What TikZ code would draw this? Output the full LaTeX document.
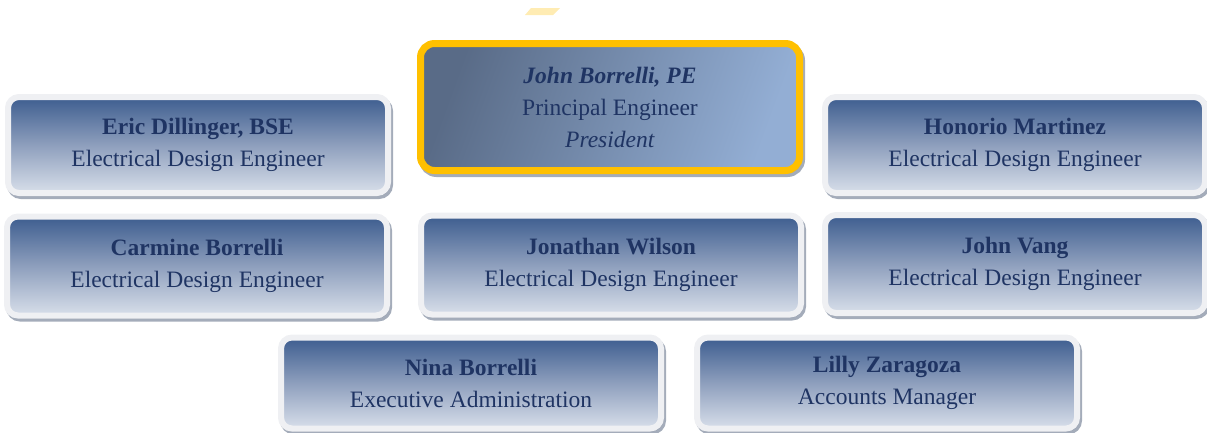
\documentclass[tikz,border=0pt]{standalone}
\usepackage{fontspec}
\setmainfont{Liberation Serif}
\usetikzlibrary{shadows}
\definecolor{rim}{HTML}{EFF0F3}
\definecolor{shadowc}{HTML}{9AA3B2}
\definecolor{boxtop}{HTML}{3D5D8F}
\definecolor{boxmid}{HTML}{8E9FBD}
\definecolor{boxbot}{HTML}{D8DFEA}
\definecolor{pretop}{HTML}{596B87}
\definecolor{prebot}{HTML}{93AED4}
\definecolor{navy}{HTML}{1F3463}
\definecolor{gold}{HTML}{FFC000}
\definecolor{paleyellow}{HTML}{FFE7A0}
\tikzset{
  staffbox/.style={rectangle, rounded corners=11pt, draw=rim, line width=6pt,
    top color=boxtop, bottom color=boxbot, middle color=boxmid,
    minimum width=380pt, align=center, text=navy, inner sep=0pt,
    font=\fontsize{23.5}{32}\selectfont,
    drop shadow={shadow xshift=2pt, shadow yshift=-3pt, fill=shadowc, draw=shadowc, line width=6pt, opacity=0.9}},
  chiefbox/.style={rectangle, rounded corners=14pt, draw=gold, line width=7pt,
    top color=pretop, bottom color=prebot, shading angle=70,
    minimum width=379pt, minimum height=127pt, align=center, text=navy, inner sep=0pt,
    font=\fontsize{23.5}{32}\selectfont,
    drop shadow={shadow xshift=2pt, shadow yshift=-3pt, fill=shadowc, draw=shadowc, line width=7pt, opacity=0.9}}
}
\begin{document}
\begin{tikzpicture}[x=1pt,y=-1pt]
\useasboundingbox (0,0) rectangle (1207,432);
\fill[paleyellow, opacity=0.8] (531,8) -- (560,8) -- (553,15) -- (525,15) -- cycle;
\node[chiefbox] (jb) at (610,107) {\textbf{\textit{John Borrelli, PE}}\\Principal Engineer\\\textit{President}};
\node[staffbox, minimum height=96pt] (eric) at (198,145) {\textbf{Eric Dillinger, BSE}\\Electrical Design Engineer};
\node[staffbox, minimum height=96pt] (honorio) at (1015,145) {\textbf{Honorio Martinez}\\Electrical Design Engineer};
\node[staffbox, minimum height=99pt] (carmine) at (197,266) {\textbf{Carmine Borrelli}\\Electrical Design Engineer};
\node[staffbox, minimum height=99pt] (jonathan) at (611,265) {\textbf{Jonathan Wilson}\\Electrical Design Engineer};
\node[staffbox, minimum height=98pt] (vang) at (1015,264) {\textbf{John Vang}\\Electrical Design Engineer};
\node[staffbox, minimum height=91pt] (nina) at (471,383) {\textbf{Nina Borrelli}\\Executive Administration};
\node[staffbox, minimum height=91pt] (lilly) at (887,383) {\textbf{Lilly Zaragoza}\\Accounts Manager};
\end{tikzpicture}
\end{document}
